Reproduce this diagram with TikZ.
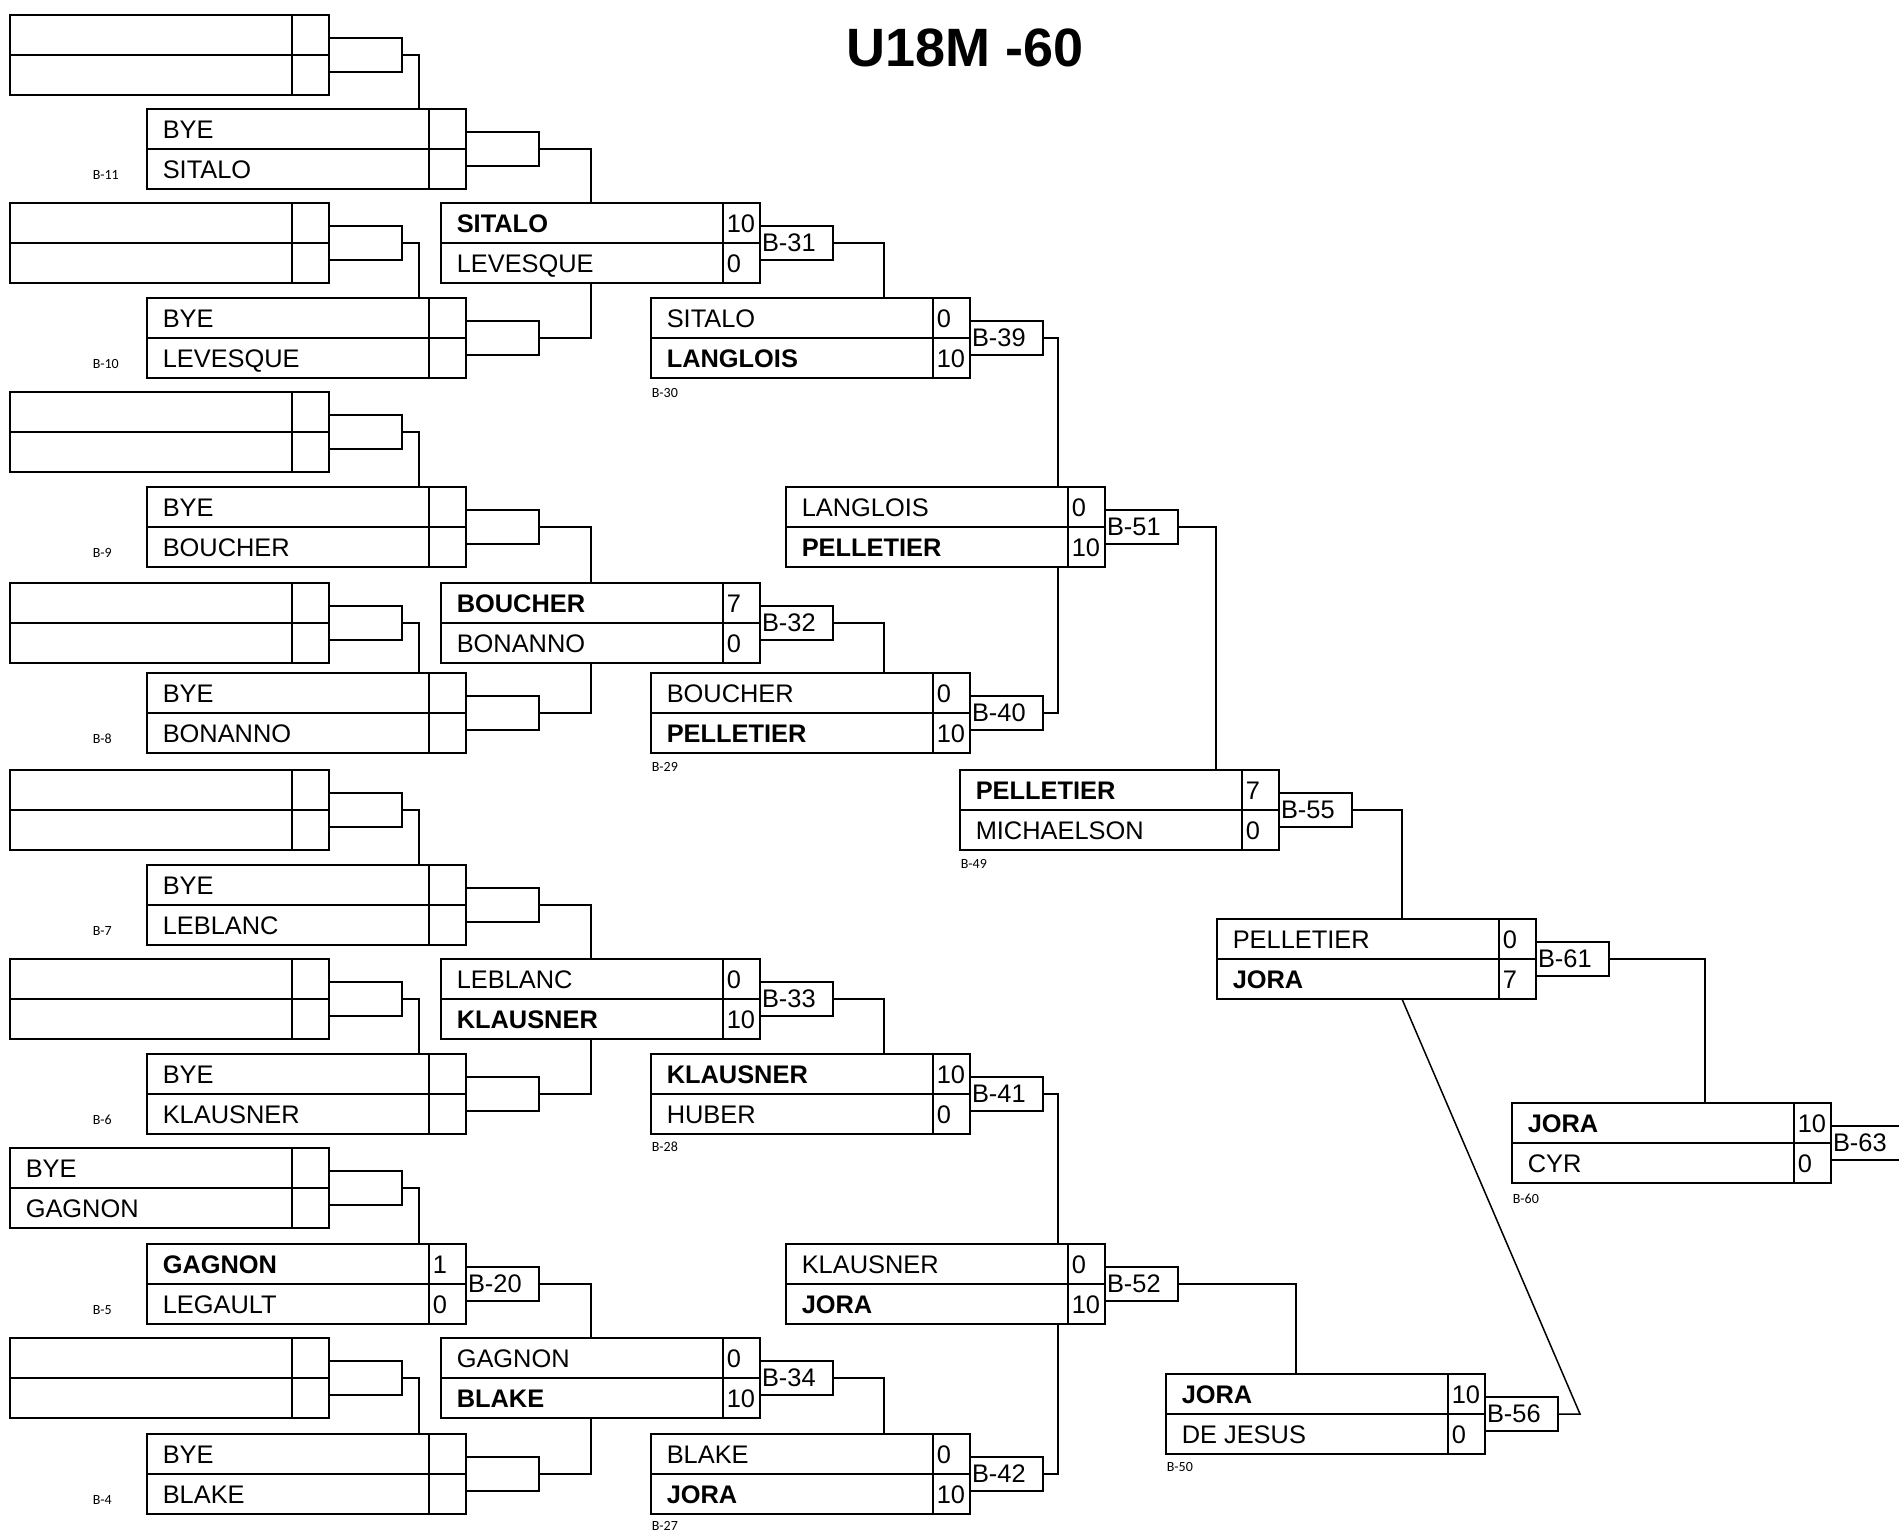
\documentclass[tikz,border=0pt]{standalone}
\usepackage{fontspec}
\setmainfont{Liberation Sans}
\newfontfamily\petite{Carlito}
\usetikzlibrary{
	calc,
	positioning
	}
\tikzset{font={\fontsize{12.7pt}{14}\selectfont}}
\tikzstyle{case-match}=[draw,rectangle,anchor=north west,minimum width=159.5pt,minimum height=40pt,inner sep=0pt,outer sep=0pt]
\tikzstyle{case-code}=[draw,anchor=west,minimum height=17pt,text width=34.5pt,inner xsep=1pt,inner ysep=0pt,align=left,outer sep=0pt]
\tikzstyle{texte-nom}=[anchor=base west,inner sep=0pt]
\tikzstyle{texte-code}=[anchor=west,inner sep=0pt,font={\petite\fontsize{7pt}{8}\selectfont}]
\tikzstyle{titre}=[inner sep=0pt,font={\fontsize{27pt}{30}\selectfont\bfseries}]
% #1 nom, #2 coin, #3 haut, #4 score, #5 bas, #6 score, #7 code
\newcommand{\matchbox}[7]{%
  \node[case-match] (#1) at (#2) {};
  \draw (#1.west) -- (#1.east);
  \draw ($(#1.north east)+(-37,0)$) -- ($(#1.south east)+(-37,0)$);
  \node[texte-nom] (#1h) at ($(#1.north west)+(15,29)$) {#3};
  \node[texte-nom] (#1hs) at ($(#1.north east)+(-34,29)$) {#4};
  \node[texte-nom] (#1b) at ($(#1.north west)+(15,69)$) {#5};
  \node[texte-nom] (#1bs) at ($(#1.north east)+(-34,69)$) {#6};
  \node[case-code] (#1c) at (#1.east) {#7};
}
\newcommand{\lien}[3]{\draw (#1c.east) -- ++(#3,0) coordinate (#1v) -- (#1v |- #2);}

\begin{document}
\begin{tikzpicture}[x=0.5pt,y=-0.5pt,line width=0.75pt]
        \useasboundingbox (0,0) rectangle (1899,1531);
        \node[titre] (titre) at (965,48) {U18M -60};
        %
        \matchbox{a1}{10,15}{}{}{}{}{}
        \matchbox{b1}{147,109}{BYE}{}{SITALO}{}{}
        \matchbox{a2}{10,203}{}{}{}{}{}
        \matchbox{b2}{147,298}{BYE}{}{LEVESQUE}{}{}
        \matchbox{c1}{441,203}{\textbf{SITALO}}{10}{LEVESQUE}{0}{B-31}
        \matchbox{d1}{651,298}{SITALO}{0}{\textbf{LANGLOIS}}{10}{B-39}
        \matchbox{a3}{10,392}{}{}{}{}{}
        \matchbox{b3}{147,487}{BYE}{}{BOUCHER}{}{}
        \matchbox{a4}{10,583}{}{}{}{}{}
        \matchbox{b4}{147,673}{BYE}{}{BONANNO}{}{}
        \matchbox{c2}{441,583}{\textbf{BOUCHER}}{7}{BONANNO}{0}{B-32}
        \matchbox{d2}{651,673}{BOUCHER}{0}{\textbf{PELLETIER}}{10}{B-40}
        \matchbox{e1}{786,487}{LANGLOIS}{0}{\textbf{PELLETIER}}{10}{B-51}
        \matchbox{f1}{960,770}{\textbf{PELLETIER}}{7}{MICHAELSON}{0}{B-55}
        \matchbox{a5}{10,770}{}{}{}{}{}
        \matchbox{b5}{147,865}{BYE}{}{LEBLANC}{}{}
        \matchbox{a6}{10,959}{}{}{}{}{}
        \matchbox{b6}{147,1054}{BYE}{}{KLAUSNER}{}{}
        \matchbox{c3}{441,959}{LEBLANC}{0}{\textbf{KLAUSNER}}{10}{B-33}
        \matchbox{d3}{651,1054}{\textbf{KLAUSNER}}{10}{HUBER}{0}{B-41}
        \matchbox{a7}{10,1148}{BYE}{}{GAGNON}{}{}
        \matchbox{b7}{147,1244}{\textbf{GAGNON}}{1}{LEGAULT}{0}{B-20}
        \matchbox{a8}{10,1338}{}{}{}{}{}
        \matchbox{b8}{147,1434}{BYE}{}{BLAKE}{}{}
        \matchbox{c4}{441,1338}{GAGNON}{0}{\textbf{BLAKE}}{10}{B-34}
        \matchbox{d4}{651,1434}{BLAKE}{0}{\textbf{JORA}}{10}{B-42}
        \matchbox{e2}{786,1244}{KLAUSNER}{0}{\textbf{JORA}}{10}{B-52}
        \matchbox{j1}{1166,1374}{\textbf{JORA}}{10}{DE JESUS}{0}{B-56}
        \matchbox{g1}{1217,919}{PELLETIER}{0}{\textbf{JORA}}{7}{B-61}
        \matchbox{h1}{1512,1103}{\textbf{JORA}}{10}{CYR}{0}{B-63}
        %
        \lien{a1}{b1.north}{17} \lien{a2}{b2.north}{17}
        \lien{a3}{b3.north}{17} \lien{a4}{b4.north}{17}
        \lien{a5}{b5.north}{17} \lien{a6}{b6.north}{17}
        \lien{a7}{b7.north}{17} \lien{a8}{b8.north}{17}
        \lien{b1}{c1.north}{52} \lien{b2}{c1.south}{52}
        \lien{b3}{c2.north}{52} \lien{b4}{c2.south}{52}
        \lien{b5}{c3.north}{52} \lien{b6}{c3.south}{52}
        \lien{b7}{c4.north}{52} \lien{b8}{c4.south}{52}
        \lien{c1}{d1.north}{51} \lien{c2}{d2.north}{51}
        \lien{c3}{d3.north}{51} \lien{c4}{d4.north}{51}
        \lien{d1}{e1.north}{15} \lien{d2}{e1.south}{15}
        \lien{d3}{e2.north}{15} \lien{d4}{e2.south}{15}
        \lien{e1}{f1.north}{38}
        \lien{e2}{j1.north}{118}
        \lien{f1}{g1.north}{50}
        \lien{g1}{h1.north}{96}
        \draw (j1c.east) -- ++(22,0) -- (f1v |- g1.south);
        %
        \node[texte-code] (k11) at ($(b1.south west)+(-55,-14)$) {B-11};
        \node[texte-code] (k10) at ($(b2.south west)+(-55,-14)$) {B-10};
        \node[texte-code] (k9) at ($(b3.south west)+(-55,-14)$) {B-9};
        \node[texte-code] (k8) at ($(b4.south west)+(-55,-14)$) {B-8};
        \node[texte-code] (k7) at ($(b5.south west)+(-55,-14)$) {B-7};
        \node[texte-code] (k6) at ($(b6.south west)+(-55,-14)$) {B-6};
        \node[texte-code] (k5) at ($(b7.south west)+(-55,-14)$) {B-5};
        \node[texte-code] (k4) at ($(b8.south west)+(-55,-14)$) {B-4};

        \node[texte-code] (k30) at ($(d1.south west)+(0,15)$) {B-30};
        \node[texte-code] (k29) at ($(d2.south west)+(0,14)$) {B-29};
        \node[texte-code] (k28) at ($(d3.south west)+(0,13)$) {B-28};
        \node[texte-code] (k27) at ($(d4.south west)+(0,12)$) {B-27};
        \node[texte-code] (k49) at ($(f1.south west)+(0,14)$) {B-49};
        \node[texte-code] (k50) at ($(j1.south west)+(0,13)$) {B-50};
        \node[texte-code] (k60) at ($(h1.south west)+(0,16)$) {B-60};
    \end{tikzpicture}
\end{document}
